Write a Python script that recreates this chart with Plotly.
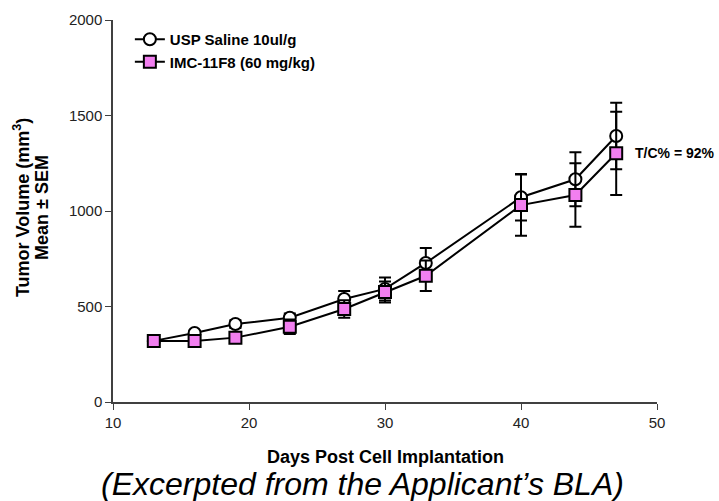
import plotly.graph_objects as go

days = [13, 16, 19, 23, 27, 30, 33, 40, 44, 47]
saline_mean = [320, 361, 408, 441, 539, 592, 728, 1072, 1166, 1393]
saline_sem = [12, 12, 20, 22, 42, 60, 78, 122, 141, 174]
imc_mean = [319, 319, 337, 394, 487, 576, 661, 1031, 1084, 1302]
imc_sem = [12, 12, 16, 38, 46, 55, 80, 160, 166, 218]

FONT = "Liberation Sans, Arial, sans-serif"

fig = go.Figure()
fig.add_trace(go.Scatter(
    x=days, y=saline_mean, name="<b>USP Saline 10ul/g</b>", mode="lines+markers",
    line=dict(color="black", width=2),
    marker=dict(symbol="circle", size=12, color="white", line=dict(color="black", width=2)),
    error_y=dict(type="data", array=saline_sem, color="black", thickness=2, width=6),
))
fig.add_trace(go.Scatter(
    x=days, y=imc_mean, name="<b>IMC-11F8 (60 mg/kg)</b>", mode="lines+markers",
    line=dict(color="black", width=2),
    marker=dict(symbol="square", size=12, color="#F27FF0", line=dict(color="black", width=2)),
    error_y=dict(type="data", array=imc_sem, color="black", thickness=2, width=6),
))

fig.update_layout(
    width=719, height=501,
    margin=dict(l=113, r=62, t=20, b=99),
    paper_bgcolor="white", plot_bgcolor="white",
    font=dict(family=FONT, size=15, color="black"),
    showlegend=True,
    legend=dict(x=0.031, y=0.992, xanchor="left", yanchor="top",
                bgcolor="rgba(0,0,0,0)", font=dict(size=15, color="black"),
                tracegroupgap=0, itemwidth=30),
    xaxis=dict(range=[10, 50], tickvals=[10, 20, 30, 40, 50], showgrid=False, zeroline=False,
               showline=True, linecolor="#404040", linewidth=1.5, ticks="outside", ticklen=6,
               tickcolor="#404040", tickfont=dict(size=15, color="#222")),
    yaxis=dict(range=[0, 2000], tickvals=[0, 500, 1000, 1500, 2000], showgrid=False, zeroline=False,
               showline=True, linecolor="#404040", linewidth=1.5, ticks="outside", ticklen=6,
               tickcolor="#404040", tickfont=dict(size=15, color="#222")),
)

fig.add_annotation(x=-0.167, y=0.508, xref="paper", yref="paper", textangle=-90,
                   text="<b>Tumor Volume (mm<sup>3</sup>)</b>",
                   showarrow=False, font=dict(size=18), xanchor="center", yanchor="middle")
fig.add_annotation(x=-0.1305, y=0.508, xref="paper", yref="paper", textangle=-90,
                   text="<b>Mean ± SEM</b>",
                   showarrow=False, font=dict(size=18), xanchor="center", yanchor="middle")
fig.add_annotation(x=0.5, y=-0.144, xref="paper", yref="paper",
                   text="<b>Days Post Cell Implantation</b>",
                   showarrow=False, font=dict(size=18), xanchor="center", yanchor="middle")
fig.add_annotation(x=0.955, y=1302, xref="paper", yref="y", text="<b>T/C% = 92%</b>",
                   showarrow=False, font=dict(size=14), xanchor="left", yanchor="middle")
fig.add_annotation(x=0.458, y=-0.214, xref="paper", yref="paper",
                   text="<i>(Excerpted from the Applicant’s BLA)</i>",
                   showarrow=False, font=dict(size=32), xanchor="center", yanchor="middle")

fig.write_html("out.html")
